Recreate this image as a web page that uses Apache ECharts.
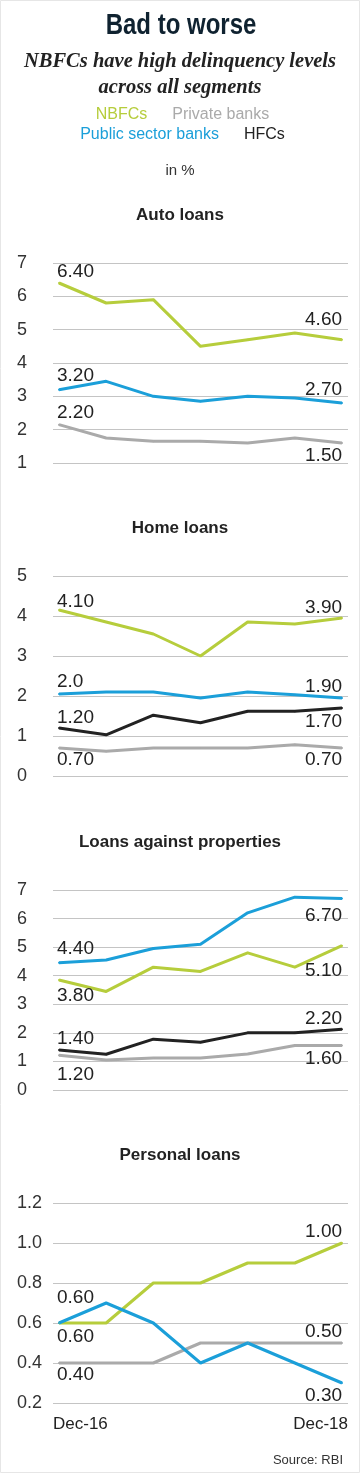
<!DOCTYPE html>
<html>
<head>
<meta charset="utf-8">
<script src="https://cdn.jsdelivr.net/npm/echarts@6/dist/echarts.min.js"></script>
<style>
html,body{margin:0;padding:0;background:#fff;}
#chart{width:360px;height:1473px;}
</style>
</head>
<body>
<div id="chart"></div>
<script>
// ---- data ----
const categories = ['Dec-16', '', '', '', '', '', 'Dec-18'];
const seriesNames = ['NBFCs', 'Private banks', 'Public sector banks', 'HFCs'];
const panelTitles = ['Auto loans', 'Home loans', 'Loans against properties', 'Personal loans'];

const autoNBFC = [6.4, 5.8, 5.9, 4.5, 4.7, 4.9, 4.7];
const autoPrivate = [2.15, 1.75, 1.65, 1.65, 1.6, 1.75, 1.6];
const autoPSB = [3.2, 3.45, 3.0, 2.85, 3.0, 2.95, 2.8];
const autoNBFCLabels = ['6.40', '4.60'];
const autoPrivateLabels = ['2.20', '1.50'];
const autoPSBLabels = ['3.20', '2.70'];

const homeNBFC = [4.15, 3.85, 3.55, 3.0, 3.85, 3.8, 3.95];
const homePrivate = [0.7, 0.62, 0.7, 0.7, 0.7, 0.78, 0.7];
const homePSB = [2.05, 2.1, 2.1, 1.95, 2.1, 2.03, 1.95];
const homeHFC = [1.2, 1.03, 1.52, 1.33, 1.62, 1.62, 1.7];
const homeNBFCLabels = ['4.10', '3.90'];
const homePrivateLabels = ['0.70', '0.70'];
const homePSBLabels = ['2.0', '1.90'];
const homeHFCLabels = ['1.20', '1.70'];

const lapNBFC = [3.85, 3.45, 4.3, 4.15, 4.8, 4.3, 5.05];
const lapPrivate = [1.22, 1.05, 1.12, 1.12, 1.26, 1.56, 1.56];
const lapPSB = [4.45, 4.55, 4.95, 5.1, 6.2, 6.75, 6.7];
const lapHFC = [1.4, 1.25, 1.78, 1.67, 2.0, 2.0, 2.13];
const lapNBFCLabels = ['3.80', '5.10'];
const lapPrivateLabels = ['1.20', '1.60'];
const lapPSBLabels = ['4.40', '6.70'];
const lapHFCLabels = ['1.40', '2.20'];

const personalNBFC = [0.6, 0.6, 0.8, 0.8, 0.9, 0.9, 1.0];
const personalPrivate = [0.4, 0.4, 0.4, 0.5, 0.5, 0.5, 0.5];
const personalPSB = [0.6, 0.7, 0.6, 0.4, 0.5, 0.4, 0.3];
const personalNBFCLabels = ['0.60', '1.00'];
const personalPrivateLabels = ['0.40', '0.50'];
const personalPSBLabels = ['0.60', '0.30'];

const yMins = [1, 0, 0, 0.2];
const yMaxs = [7, 5, 7, 1.2];
const yIntervals = [1, 1, 1, 0.2];

// ---- styles ----
const COLORS = {
  'NBFCs': '#b6cd3c',
  'Private banks': '#aaaaaa',
  'Public sector banks': '#1b9fd9',
  'HFCs': '#222222'
};
const FONT = '"Liberation Sans", Arial, sans-serif';
const gridTops = [263, 576, 890, 1203];
const GRID_H = 200;
const GRID_LEFT = 53;
const GRID_RIGHT = 12;
const PAD = 0.127;

function buildData(values, labels, offs) {
  return values.map(function (v, i) {
    const item = { value: [i, v] };
    if (i === 0 || i === values.length - 1) {
      const first = i === 0;
      item.label = {
        show: true,
        formatter: first ? labels[0] : labels[1],
        position: 'inside',
        align: first ? 'left' : 'right',
        verticalAlign: 'middle',
        offset: [first ? -2 : 0, first ? offs[0] : offs[1]],
        fontFamily: FONT,
        fontSize: 19,
        color: '#222'
      };
    }
    return item;
  });
}

function lineSeries(name, gi, values, labels, offs) {
  return {
    type: 'line',
    name: name,
    xAxisIndex: gi,
    yAxisIndex: gi,
    data: buildData(values, labels, offs),
    symbol: 'circle',
    symbolSize: 2,
    showSymbol: true,
    color: COLORS[name],
    itemStyle: { color: COLORS[name] },
    lineStyle: { color: COLORS[name], width: 3 },
    emphasis: { disabled: true },
    silent: true,
    z: 3
  };
}

const grids = [], xAxes = [], yAxes = [];
for (let g = 0; g < 4; g++) {
  grids.push({ left: GRID_LEFT, right: GRID_RIGHT, top: gridTops[g], height: GRID_H });
  xAxes.push({
    type: 'value', gridIndex: g, min: -PAD, max: categories.length - 1 + PAD,
    show: false
  });
  yAxes.push({
    type: 'value', gridIndex: g, min: yMins[g], max: yMaxs[g], interval: yIntervals[g],
    axisLine: { show: false }, axisTick: { show: false },
    axisLabel: {
      margin: 36, align: 'left', fontFamily: FONT, fontSize: 18, color: '#333',
      formatter: function (v) { return yIntervals[g] < 1 ? v.toFixed(1) : String(Math.round(v)); }
    },
    splitLine: { lineStyle: { color: '#c4c4c4', width: 1 } }
  });
}
// category axis for date labels on last panel
xAxes.push({
  type: 'category', gridIndex: 3, data: categories, boundaryGap: false, position: 'bottom',
  axisLine: { show: false }, axisTick: { show: false }, splitLine: { show: false },
  axisLabel: {
    interval: function (i) { return i === 0 || i === categories.length - 1; },
    alignMinLabel: 'left', alignMaxLabel: 'right',
    margin: 13, fontFamily: FONT, fontSize: 17, color: '#222'
  }
});

const series = [
  lineSeries('Private banks', 0, autoPrivate, autoPrivateLabels, [-12, 13]),
  lineSeries('Public sector banks', 0, autoPSB, autoPSBLabels, [-14, -13]),
  lineSeries('NBFCs', 0, autoNBFC, autoNBFCLabels, [-11, -20]),

  lineSeries('Private banks', 1, homePrivate, homePrivateLabels, [12, 12]),
  lineSeries('HFCs', 1, homeHFC, homeHFCLabels, [-10, 14]),
  lineSeries('Public sector banks', 1, homePSB, homePSBLabels, [-12, -11]),
  lineSeries('NBFCs', 1, homeNBFC, homeNBFCLabels, [-8, -10]),

  lineSeries('Private banks', 2, lapPrivate, lapPrivateLabels, [20, 13]),
  lineSeries('HFCs', 2, lapHFC, lapHFCLabels, [-11, -10]),
  lineSeries('NBFCs', 2, lapNBFC, lapNBFCLabels, [16, 25]),
  lineSeries('Public sector banks', 2, lapPSB, lapPSBLabels, [-14, 17]),

  lineSeries('Private banks', 3, personalPrivate, personalPrivateLabels, [12, -11]),
  lineSeries('NBFCs', 3, personalNBFC, personalNBFCLabels, [14, -11]),
  lineSeries('Public sector banks', 3, personalPSB, personalPSBLabels, [-25, 13])
];

const titles = [
  { text: 'NBFCs have high delinquency levels\nacross all segments', left: 'center', top: 44,
    textStyle: { fontFamily: '"Liberation Serif", "DejaVu Serif", serif', fontStyle: 'italic', fontWeight: 'bold', fontSize: 20.5, lineHeight: 26, color: '#222' } },
  { text: 'in %', left: 'center', top: 158,
    textStyle: { fontFamily: FONT, fontWeight: 'normal', fontSize: 15, lineHeight: 16, color: '#333' } },
  { text: 'Source: RBI', right: 12, top: 1448,
    textStyle: { fontFamily: FONT, fontWeight: 'normal', fontSize: 13, lineHeight: 14, color: '#333' } }
];
panelTitles.forEach(function (t, i) {
  titles.push({ text: t, left: 'center', top: gridTops[i] - 53 - 10,
    textStyle: { fontFamily: FONT, fontWeight: 'bold', fontSize: 17, lineHeight: 20, color: '#222' } });
});

function legendItem(name) { return { name: name, textStyle: { color: COLORS[name] } }; }
const legendBase = {
  left: 'center', icon: 'none', itemWidth: 0, itemHeight: 18, itemGap: 20,
  selectedMode: false, padding: 0,
  textStyle: { fontFamily: FONT, fontSize: 16, lineHeight: 18 }
};

const option = {
  backgroundColor: '#ffffff',
  animation: false,
  title: titles,
  legend: [
    Object.assign({}, legendBase, { top: 106, data: [legendItem('NBFCs'), legendItem('Private banks')] }),
    Object.assign({}, legendBase, { top: 126, data: [legendItem('Public sector banks'), legendItem('HFCs')] })
  ],
  grid: grids,
  xAxis: xAxes,
  yAxis: yAxes,
  series: series,
  graphic: [
    {
      type: 'rect', shape: { x: 0.5, y: 0.5, width: 359, height: 1472 },
      style: { fill: 'none', stroke: '#e6e6e6', lineWidth: 1 }, silent: true
    },
    {
      type: 'text', x: 181, y: 26, scaleX: 0.8, silent: true,
      style: {
        text: 'Bad to worse', textAlign: 'center', textVerticalAlign: 'middle',
        font: 'bold 30px "Liberation Sans", Arial, sans-serif', fill: '#0f2230'
      }
    }
  ]
};

const chart = echarts.init(document.getElementById('chart'), null, { renderer: 'canvas' });
chart.setOption(option);
</script>
</body>
</html>
